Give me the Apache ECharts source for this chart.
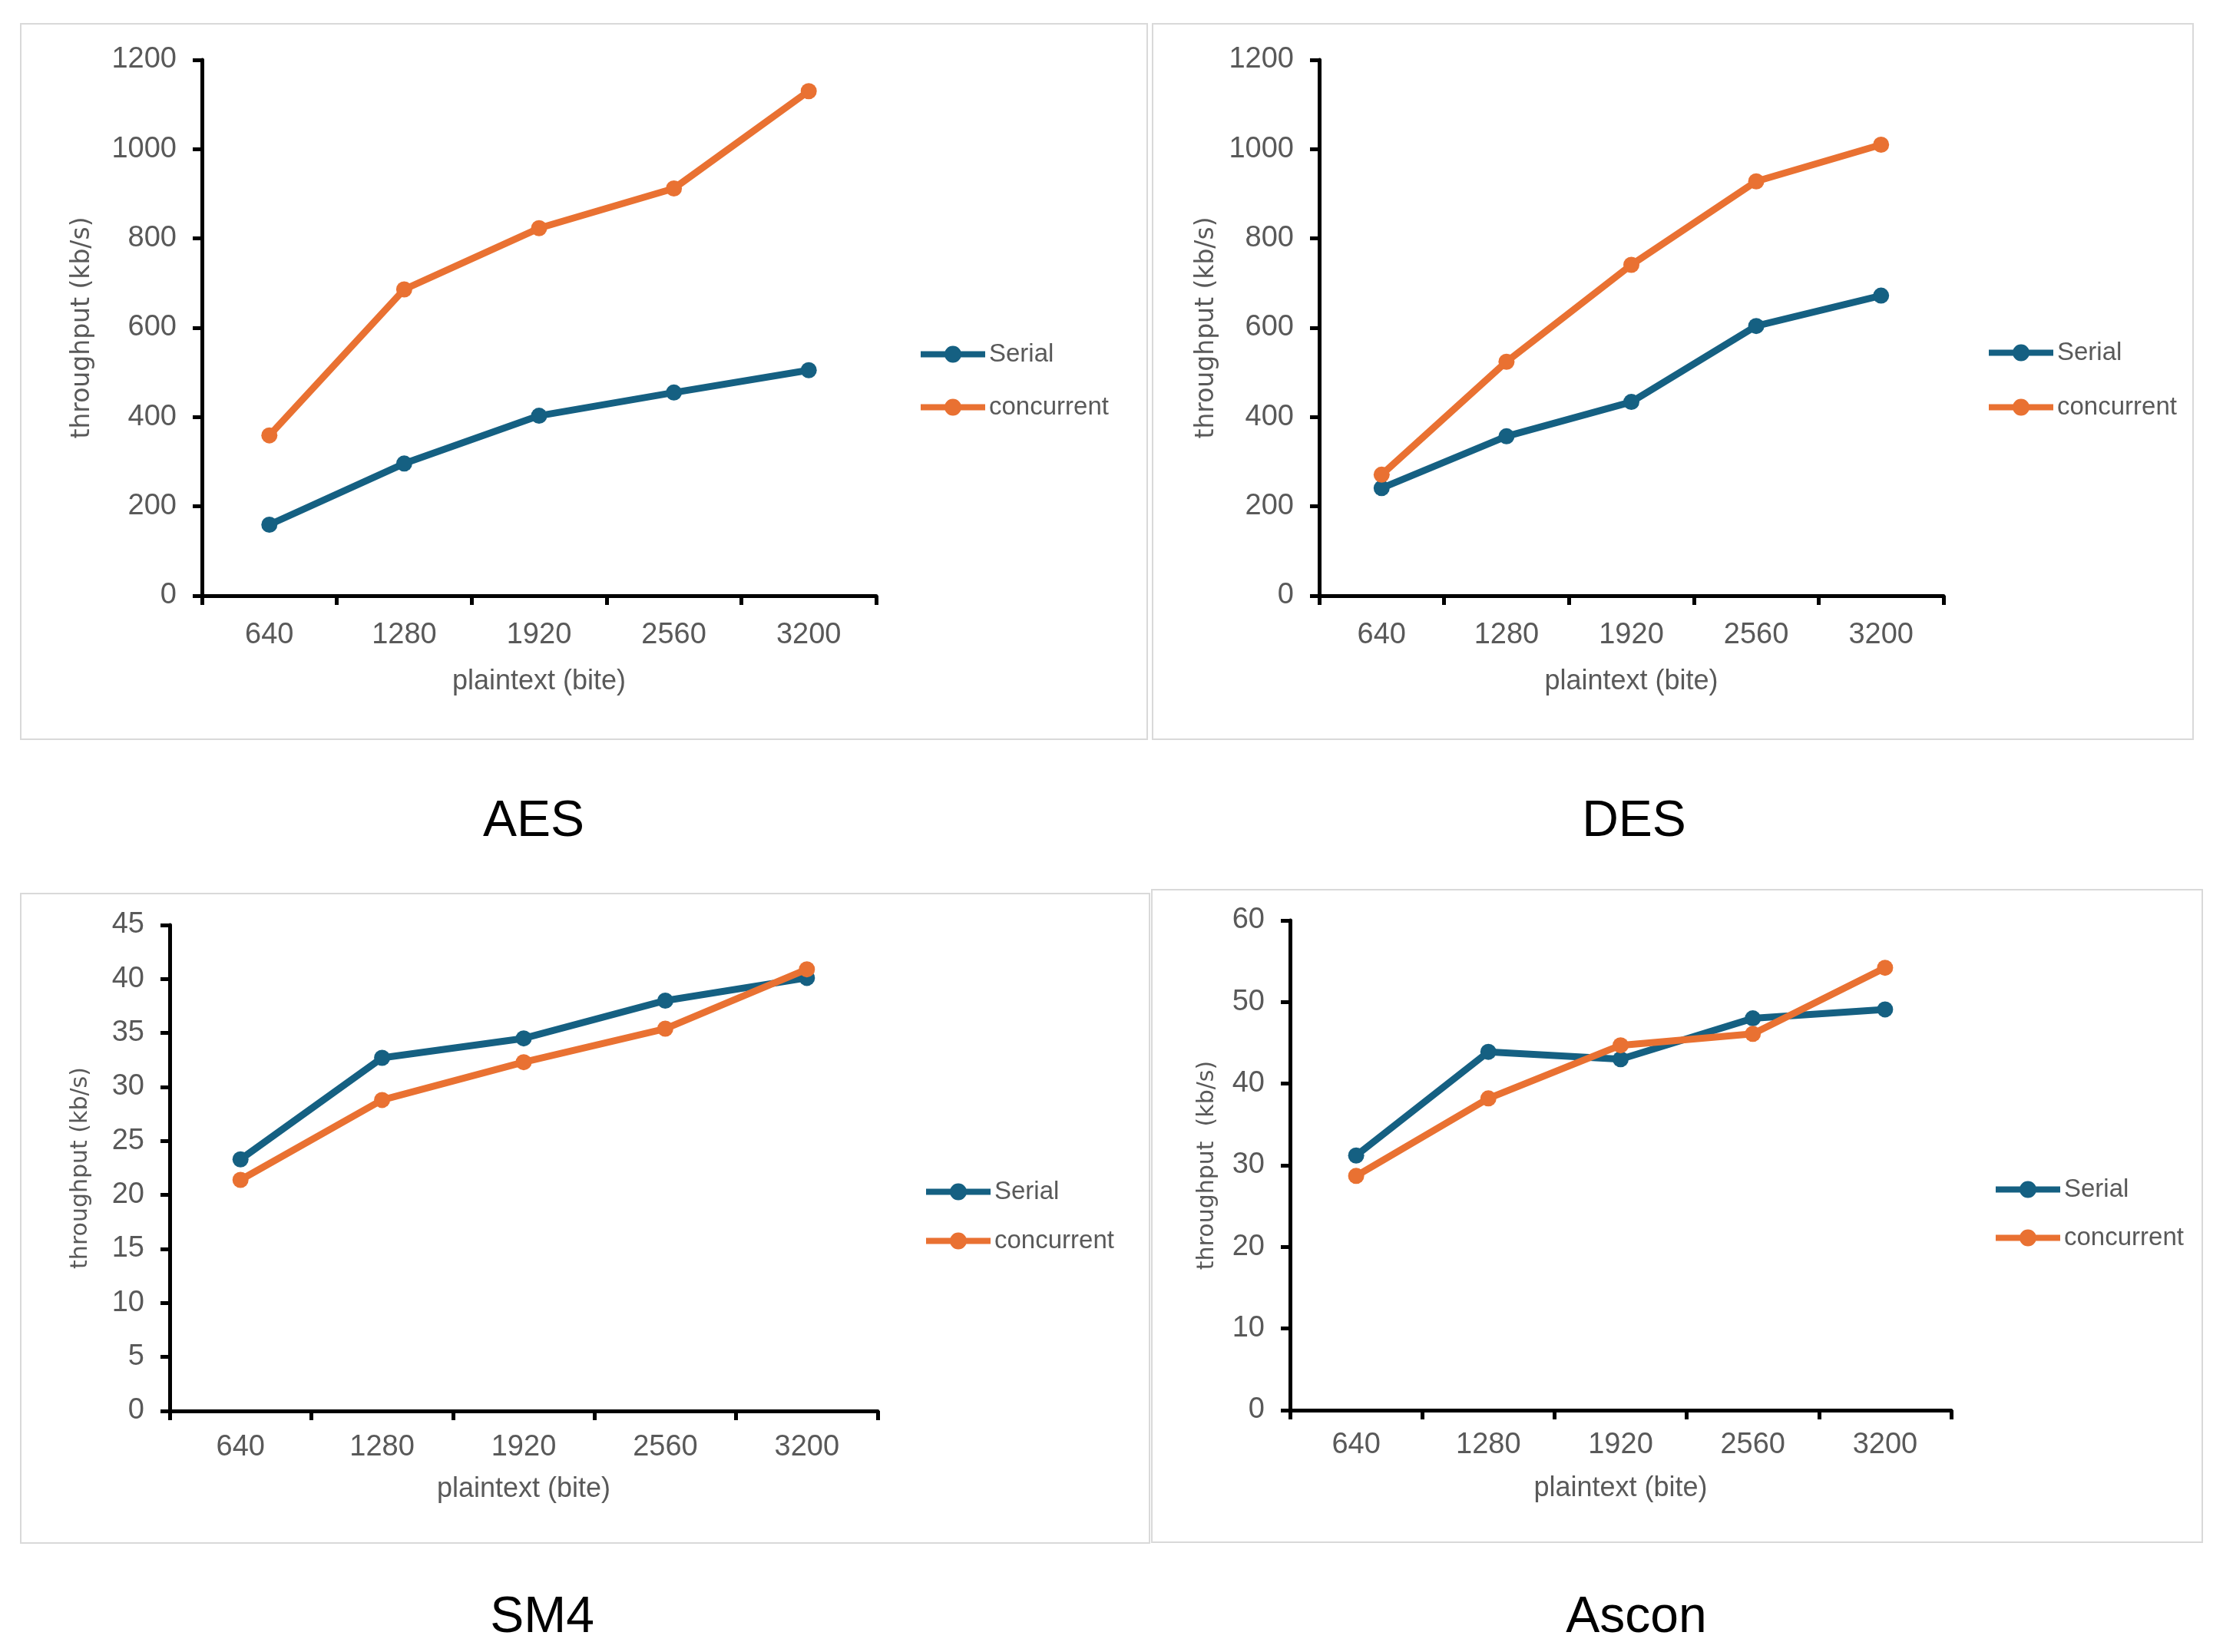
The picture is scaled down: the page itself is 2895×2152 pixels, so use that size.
<!DOCTYPE html>
<html>
<head>
<meta charset="utf-8">
<script src="https://cdn.jsdelivr.net/npm/echarts@6/dist/echarts.min.js"></script>
<style>
html,body{margin:0;padding:0;background:#fff;}
#chart{width:2895px;height:2152px;}
</style>
</head>
<body>
<div id="chart"></div>
<script>
// ---- data ----
const categories = ['640', '1280', '1920', '2560', '3200'];
const seriesNames = ['Serial', 'concurrent'];
const panelTitles = ['AES', 'DES', 'SM4', 'Ascon'];
const yNames = ['throughput (kb/s)', 'throughput (kb/s)', 'throughput (kb/s)', 'throughput  (kb/s)'];
const xName = 'plaintext (bite)';

const aesSerial = [159, 296, 403, 455, 505];
const aesConcurrent = [359, 686, 823, 912, 1130];
const desSerial = [241, 357, 434, 604, 672];
const desConcurrent = [271, 524, 741, 928, 1010];
const sm4Serial = [23.3, 32.7, 34.5, 38.0, 40.1];
const sm4Concurrent = [21.4, 28.8, 32.3, 35.4, 40.9];
const asconSerial = [31.2, 43.9, 43.0, 48.0, 49.1];
const asconConcurrent = [28.7, 38.2, 44.7, 46.1, 54.2];

const yMax = [1200, 1200, 45, 60];
const yInterval = [200, 200, 5, 10];

// ---- layout ----
const FONT = '"Liberation Sans", Arial, sans-serif';
const NAMEFONT = '"DejaVu Sans", sans-serif';
const GRAY = '#595959';
const COLORS = ['#156082', '#E97132'];

const grids = [
  {left: 263, top: 78, width: 878, height: 698},
  {left: 1718, top: 78, width: 813, height: 698},
  {left: 221, top: 1205, width: 922, height: 633},
  {left: 1680, top: 1199, width: 861, height: 638}
];
const yNameGap = [139, 130, 101, 93];
const yNameSize = [33, 33, 30, 30];
const xNameGap = [94, 94, 84, 84];
const xLabelMargin = [33, 33, 29, 27];
const legendPos = [
  {left: 1199, top: 445, gap: 36},
  {left: 2590, top: 443, gap: 38},
  {left: 1206, top: 1536, gap: 31},
  {left: 2599, top: 1533, gap: 30}
];
const borders = [
  {x: 27, y: 31, w: 1467, h: 932},
  {x: 1501, y: 31, w: 1355, h: 932},
  {x: 27, y: 1164, w: 1470, h: 846},
  {x: 1500, y: 1159, w: 1368, h: 850}
];
const titlePos = [[695, 1071], [2128, 1071], [706, 2108], [2131, 2108]];

const dataSets = [
  [aesSerial, aesConcurrent],
  [desSerial, desConcurrent],
  [sm4Serial, sm4Concurrent],
  [asconSerial, asconConcurrent]
];

// legend icon: thick line with a dot in the middle
const LEGEND_ICON = 'path://M0,7L84,7L84,15L0,15Z' +
  'M31,11A11,11 0 1,1 53,11A11,11 0 1,1 31,11Z';

const option = {
  backgroundColor: '#ffffff',
  animation: false,
  grid: grids.map(g => Object.assign({containLabel: false}, g)),
  xAxis: grids.map((g, i) => ({
    type: 'category',
    gridIndex: i,
    data: categories,
    boundaryGap: true,
    name: xName,
    nameLocation: 'middle',
    nameGap: xNameGap[i],
    nameTextStyle: {fontFamily: FONT, fontSize: 36, color: GRAY},
    axisLine: {show: true, lineStyle: {color: '#000', width: 5}},
    axisTick: {show: true, length: 12, lineStyle: {color: '#000', width: 5}},
    axisLabel: {fontFamily: FONT, fontSize: 38, color: GRAY, margin: xLabelMargin[i]},
    splitLine: {show: false}
  })),
  yAxis: grids.map((g, i) => ({
    type: 'value',
    gridIndex: i,
    min: 0,
    max: yMax[i],
    interval: yInterval[i],
    name: yNames[i],
    nameLocation: 'middle',
    nameGap: yNameGap[i],
    nameTextStyle: {fontFamily: NAMEFONT, fontSize: yNameSize[i], color: GRAY},
    axisLine: {show: true, lineStyle: {color: '#000', width: 5}},
    axisTick: {show: true, length: 12, lineStyle: {color: '#000', width: 5}},
    axisLabel: {fontFamily: FONT, fontSize: 38, color: GRAY, margin: 33,
                formatter: v => String(v)},
    splitLine: {show: false}
  })),
  legend: legendPos.map(p => ({
    orient: 'vertical',
    left: p.left,
    top: p.top,
    padding: 0,
    itemGap: p.gap,
    itemWidth: 84,
    itemHeight: 22,
    icon: LEGEND_ICON,
    itemStyle: {borderWidth: 0},
    data: seriesNames,
    textStyle: {fontFamily: FONT, fontSize: 33, color: GRAY, padding: [0, 0, 0, 0]}
  })),
  series: [],
  graphic: []
};

dataSets.forEach((pair, i) => {
  pair.forEach((vals, k) => {
    option.series.push({
      type: 'line',
      name: seriesNames[k],
      xAxisIndex: i,
      yAxisIndex: i,
      data: vals,
      symbol: 'circle',
      symbolSize: 21,
      lineStyle: {width: 9, color: COLORS[k]},
      itemStyle: {color: COLORS[k]},
      z: 3 + k
    });
  });
});

borders.forEach(b => {
  option.graphic.push({
    type: 'rect',
    shape: {x: b.x, y: b.y, width: b.w, height: b.h},
    style: {fill: 'none', stroke: '#d9d9d9', lineWidth: 2},
    silent: true,
    z: -1
  });
});
panelTitles.forEach((t, i) => {
  option.graphic.push({
    type: 'text',
    x: titlePos[i][0],
    y: titlePos[i][1],
    style: {
      text: t,
      fontFamily: FONT,
      fontSize: 66,
      fill: '#000',
      align: 'center',
      verticalAlign: 'middle'
    },
    silent: true
  });
});

const chart = echarts.init(document.getElementById('chart'));
chart.setOption(option);
</script>
</body>
</html>
